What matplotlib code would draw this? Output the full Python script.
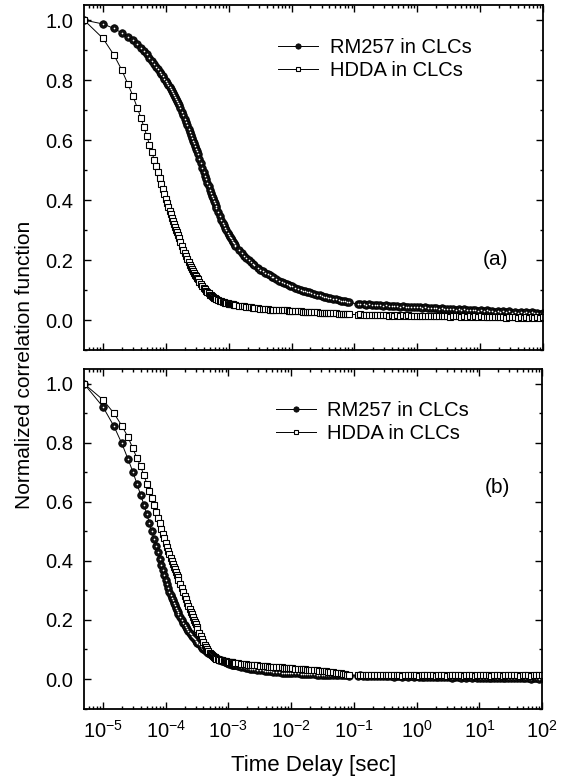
# Normalized correlation functions of RM257 and HDDA in CLCs, panels (a) and (b)

import numpy as np
import matplotlib.pyplot as plt
from matplotlib.ticker import FixedLocator, MultipleLocator, NullFormatter, LogFormatterSciNotation

plt.rcParams['font.family'] = ['Liberation Sans', 'DejaVu Sans']
plt.rcParams['axes.unicode_minus'] = False
plt.rcParams['mathtext.default'] = 'regular'

# lag times [sec] of the correlator channels, shared by every series
lag_time = [
    5e-6, 1e-5, 1.5e-5, 2e-5, 2.5e-5, 3e-5, 3.5e-5, 4e-5,
    4.5e-5, 5e-5, 5.5e-5, 6e-5, 6.5e-5, 7e-5, 7.5e-5, 8e-5,
    8.5e-5, 9e-5, 9.5e-5, 1e-4, 1.05e-4, 1.1e-4, 1.15e-4, 1.2e-4,
    1.25e-4, 1.3e-4, 1.35e-4, 1.4e-4, 1.45e-4, 1.5e-4, 1.55e-4, 1.6e-4,
    1.7e-4, 1.8e-4, 1.9e-4, 2e-4, 2.1e-4, 2.2e-4, 2.3e-4, 2.4e-4,
    2.5e-4, 2.6e-4, 2.7e-4, 2.8e-4, 2.9e-4, 3e-4, 3.1e-4, 3.2e-4,
    3.4e-4, 3.6e-4, 3.8e-4, 4e-4, 4.2e-4, 4.4e-4, 4.6e-4, 4.8e-4,
    5e-4, 5.2e-4, 5.4e-4, 5.6e-4, 5.8e-4, 6e-4, 6.2e-4, 6.4e-4,
    6.8e-4, 7.2e-4, 7.6e-4, 8e-4, 8.4e-4, 8.8e-4, 9.2e-4, 9.6e-4,
    1e-3, 1.04e-3, 1.08e-3, 1.12e-3, 1.16e-3, 1.2e-3, 1.24e-3, 1.28e-3,
    1.44e-3, 1.6e-3, 1.76e-3, 1.92e-3, 2.08e-3, 2.24e-3, 2.4e-3, 2.56e-3,
    2.88e-3, 3.2e-3, 3.52e-3, 3.84e-3, 4.16e-3, 4.48e-3, 4.8e-3, 5.12e-3,
    5.76e-3, 6.4e-3, 7.04e-3, 7.68e-3, 8.32e-3, 8.96e-3, 9.6e-3, 1.024e-2,
    1.152e-2, 1.28e-2, 1.408e-2, 1.536e-2, 1.664e-2, 1.792e-2, 1.92e-2, 2.048e-2,
    2.304e-2, 2.56e-2, 2.816e-2, 3.072e-2, 3.328e-2, 3.584e-2, 3.84e-2, 4.096e-2,
    4.608e-2, 5.12e-2, 5.632e-2, 6.144e-2, 6.656e-2, 7.168e-2, 7.68e-2, 8.192e-2,
    0.115, 0.125, 0.14, 0.155, 0.17, 0.19, 0.21, 0.23, 0.26, 0.29,
    0.32, 0.35, 0.39, 0.43, 0.48, 0.53, 0.59, 0.65, 0.72, 0.8,
    0.89, 0.98, 1.09, 1.2, 1.33, 1.48, 1.64, 1.82, 2.0, 2.2,
    2.45, 2.7, 3.0, 3.35, 3.7, 4.1, 4.55, 5.05, 5.6, 6.2,
    6.9, 7.6, 8.4, 9.3, 10.3, 11.5, 12.7, 14, 15.5, 17.2,
    19, 21, 23.5, 26, 29, 32, 35.5, 39.5, 44, 49,
    54, 60, 66, 73, 81, 90, 100,
]

# panel (a)
rm257_a = [
    1.000, 0.987, 0.972, 0.957, 0.944, 0.932, 0.920, 0.908,
    0.897, 0.886, 0.875, 0.865, 0.855, 0.845, 0.836, 0.827,
    0.819, 0.812, 0.805, 0.798, 0.791, 0.785, 0.778, 0.771,
    0.764, 0.757, 0.750, 0.744, 0.737, 0.731, 0.724, 0.718,
    0.706, 0.694, 0.682, 0.671, 0.660, 0.649, 0.638, 0.628,
    0.618, 0.608, 0.598, 0.589, 0.580, 0.571, 0.562, 0.554,
    0.538, 0.522, 0.508, 0.494, 0.481, 0.469, 0.457, 0.446,
    0.435, 0.425, 0.415, 0.406, 0.397, 0.389, 0.381, 0.373,
    0.359, 0.346, 0.335, 0.325, 0.316, 0.307, 0.299, 0.291,
    0.284, 0.278, 0.272, 0.266, 0.261, 0.256, 0.251, 0.247,
    0.234, 0.222, 0.213, 0.206, 0.199, 0.193, 0.188, 0.183,
    0.175, 0.168, 0.162, 0.157, 0.153, 0.149, 0.145, 0.142,
    0.136, 0.131, 0.127, 0.123, 0.120, 0.117, 0.114, 0.112,
    0.108, 0.104, 0.101, 0.098, 0.096, 0.094, 0.092, 0.090,
    0.087, 0.085, 0.082, 0.080, 0.078, 0.077, 0.075, 0.074,
    0.071, 0.069, 0.067, 0.065, 0.063, 0.062, 0.060, 0.059,
    0.053, 0.054, 0.052, 0.051, 0.052, 0.050, 0.051, 0.049, 0.050, 0.048,
    0.049, 0.047, 0.048, 0.046, 0.047, 0.045, 0.046, 0.044, 0.045, 0.043,
    0.044, 0.042, 0.043, 0.041, 0.042, 0.040, 0.041, 0.039, 0.040, 0.038,
    0.039, 0.037, 0.038, 0.036, 0.037, 0.035, 0.036, 0.034, 0.036, 0.033,
    0.034, 0.032, 0.034, 0.031, 0.033, 0.030, 0.032, 0.029, 0.031, 0.028,
    0.030, 0.027, 0.030, 0.026, 0.029, 0.025, 0.028, 0.024, 0.027, 0.023,
    0.027, 0.022, 0.026, 0.022, 0.025, 0.021, 0.024,
]
hdda_a = [
    1.000, 0.939, 0.883, 0.833, 0.786, 0.747, 0.708, 0.675,
    0.643, 0.613, 0.584, 0.560, 0.535, 0.513, 0.493, 0.473,
    0.455, 0.437, 0.421, 0.405, 0.391, 0.377, 0.364, 0.352,
    0.341, 0.330, 0.320, 0.310, 0.301, 0.292, 0.283, 0.275,
    0.260, 0.246, 0.234, 0.222, 0.212, 0.202, 0.193, 0.185,
    0.177, 0.170, 0.163, 0.157, 0.151, 0.146, 0.141, 0.136,
    0.128, 0.120, 0.113, 0.107, 0.102, 0.097, 0.093, 0.089,
    0.085, 0.082, 0.079, 0.077, 0.075, 0.073, 0.071, 0.070,
    0.067, 0.065, 0.063, 0.061, 0.060, 0.058, 0.057, 0.056,
    0.055, 0.054, 0.053, 0.052, 0.052, 0.051, 0.050, 0.050,
    0.048, 0.047, 0.046, 0.044, 0.043, 0.042, 0.041, 0.040,
    0.039, 0.038, 0.037, 0.036, 0.036, 0.035, 0.035, 0.034,
    0.034, 0.033, 0.033, 0.032, 0.032, 0.031, 0.031, 0.030,
    0.030, 0.029, 0.029, 0.028, 0.028, 0.027, 0.027, 0.027,
    0.026, 0.026, 0.025, 0.025, 0.024, 0.024, 0.024, 0.023,
    0.022, 0.022, 0.021, 0.021, 0.020, 0.020, 0.019, 0.019,
    0.018, 0.019, 0.017, 0.018, 0.016, 0.018, 0.017, 0.016, 0.018, 0.016,
    0.017, 0.015, 0.017, 0.015, 0.016, 0.014, 0.016, 0.015, 0.016, 0.014,
    0.015, 0.013, 0.015, 0.014, 0.015, 0.013, 0.014, 0.012, 0.014, 0.013,
    0.014, 0.012, 0.013, 0.011, 0.013, 0.012, 0.013, 0.011, 0.012, 0.010,
    0.012, 0.011, 0.012, 0.010, 0.012, 0.010, 0.011, 0.009, 0.011, 0.010,
    0.011, 0.009, 0.010, 0.008, 0.010, 0.009, 0.010, 0.008, 0.010, 0.008,
    0.009, 0.008, 0.009, 0.007, 0.009, 0.008, 0.009,
]

# panel (b)
rm257_b = [
    1.000, 0.922, 0.856, 0.798, 0.746, 0.702, 0.660, 0.623,
    0.590, 0.558, 0.529, 0.500, 0.475, 0.452, 0.430, 0.405,
    0.387, 0.370, 0.352, 0.335, 0.321, 0.308, 0.296, 0.285,
    0.275, 0.266, 0.257, 0.249, 0.241, 0.234, 0.227, 0.221,
    0.210, 0.200, 0.191, 0.183, 0.176, 0.169, 0.163, 0.157,
    0.152, 0.147, 0.142, 0.138, 0.134, 0.130, 0.126, 0.123,
    0.117, 0.111, 0.106, 0.102, 0.098, 0.094, 0.091, 0.088,
    0.085, 0.083, 0.080, 0.078, 0.076, 0.074, 0.072, 0.071,
    0.068, 0.066, 0.064, 0.062, 0.060, 0.058, 0.057, 0.055,
    0.054, 0.052, 0.051, 0.050, 0.049, 0.048, 0.047, 0.046,
    0.044, 0.041, 0.040, 0.038, 0.036, 0.035, 0.034, 0.033,
    0.031, 0.030, 0.029, 0.028, 0.027, 0.026, 0.026, 0.025,
    0.024, 0.023, 0.022, 0.022, 0.021, 0.021, 0.020, 0.020,
    0.019, 0.019, 0.018, 0.018, 0.017, 0.017, 0.017, 0.016,
    0.016, 0.015, 0.015, 0.015, 0.014, 0.014, 0.014, 0.014,
    0.013, 0.013, 0.013, 0.012, 0.012, 0.012, 0.012, 0.011,
    0.011, 0.012, 0.010, 0.011, 0.010, 0.011, 0.009, 0.011, 0.010, 0.009,
    0.010, 0.009, 0.010, 0.008, 0.010, 0.009, 0.008, 0.009, 0.008, 0.009,
    0.007, 0.009, 0.008, 0.007, 0.008, 0.007, 0.008, 0.006, 0.008, 0.007,
    0.006, 0.007, 0.006, 0.007, 0.005, 0.007, 0.006, 0.005, 0.006, 0.005,
    0.006, 0.004, 0.006, 0.005, 0.004, 0.005, 0.004, 0.005, 0.003, 0.005,
    0.004, 0.003, 0.004, 0.003, 0.004, 0.002, 0.004, 0.003, 0.002, 0.003,
    0.002, 0.003, 0.001, 0.003, 0.002, 0.001, 0.002,
]
hdda_b = [
    1.000, 0.946, 0.900, 0.858, 0.820, 0.781, 0.747, 0.720,
    0.690, 0.662, 0.637, 0.612, 0.589, 0.567, 0.547, 0.527,
    0.509, 0.492, 0.476, 0.461, 0.447, 0.434, 0.422, 0.411,
    0.400, 0.390, 0.380, 0.371, 0.362, 0.353, 0.345, 0.337,
    0.322, 0.308, 0.295, 0.282, 0.270, 0.259, 0.248, 0.238,
    0.228, 0.219, 0.210, 0.201, 0.193, 0.185, 0.177, 0.170,
    0.157, 0.145, 0.134, 0.124, 0.115, 0.107, 0.100, 0.094,
    0.089, 0.085, 0.081, 0.078, 0.075, 0.073, 0.071, 0.069,
    0.067, 0.065, 0.064, 0.063, 0.062, 0.061, 0.060, 0.059,
    0.058, 0.058, 0.057, 0.056, 0.056, 0.055, 0.055, 0.054,
    0.053, 0.052, 0.051, 0.050, 0.049, 0.048, 0.047, 0.047,
    0.046, 0.045, 0.044, 0.043, 0.043, 0.042, 0.042, 0.041,
    0.040, 0.039, 0.039, 0.038, 0.038, 0.037, 0.037, 0.036,
    0.035, 0.034, 0.034, 0.033, 0.033, 0.032, 0.032, 0.031,
    0.030, 0.029, 0.028, 0.027, 0.027, 0.026, 0.025, 0.024,
    0.023, 0.021, 0.020, 0.019, 0.017, 0.016, 0.015, 0.014,
    0.013, 0.014, 0.012, 0.014, 0.013, 0.012, 0.014, 0.012, 0.013, 0.014,
    0.012, 0.013, 0.012, 0.014, 0.012, 0.013, 0.011, 0.013, 0.012, 0.014,
    0.012, 0.013, 0.011, 0.013, 0.012, 0.014, 0.012, 0.013, 0.011, 0.013,
    0.012, 0.013, 0.011, 0.013, 0.012, 0.014, 0.012, 0.013, 0.011, 0.013,
    0.012, 0.013, 0.011, 0.013, 0.012, 0.014, 0.012, 0.013, 0.011, 0.013,
    0.012, 0.013, 0.011, 0.013, 0.012, 0.014, 0.012, 0.013, 0.011, 0.013,
    0.012, 0.013, 0.011, 0.013, 0.012, 0.014, 0.012,
]

labels = ['RM257 in CLCs', 'HDDA in CLCs']
panel_tags = ['(a)', '(b)']
decades = [1e-5, 1e-4, 1e-3, 1e-2, 1e-1, 1e0, 1e1, 1e2]

for series in (rm257_a, hdda_a, rm257_b, hdda_b):
    assert len(series) == len(lag_time), len(series)


def style_axis(ax):
    ax.set_xscale('log')
    ax.set_xlim(5e-6, 100)
    ax.set_ylim(-0.1, 1.05)
    minor = [m * d for d in [1e-6] + decades[:-1] for m in range(2, 10)]
    minor = [v for v in minor if 5e-6 <= v <= 100]
    ax.xaxis.set_major_locator(FixedLocator(decades))
    ax.xaxis.set_minor_locator(FixedLocator(minor))
    ax.xaxis.set_major_formatter(LogFormatterSciNotation())
    ax.xaxis.set_minor_formatter(NullFormatter())
    ax.yaxis.set_major_locator(MultipleLocator(0.2))
    ax.yaxis.set_minor_locator(MultipleLocator(0.1))
    ax.yaxis.set_major_formatter(plt.FormatStrFormatter('%.1f'))
    ax.tick_params(which='both', direction='in', top=True, right=True, width=1.0)
    ax.tick_params(which='major', length=5, labelsize=14.5, pad=8)
    ax.tick_params(which='minor', length=2.5)
    for sp in ax.spines.values():
        sp.set_linewidth(1.3)


def draw_panel(ax, rm, hd, legend_pos):
    t = np.array(lag_time)
    ax.plot(t, rm, '-', color='black', lw=0.7, marker='o', ms=5.4,
            mfc='#111111', mec='black', mew=0.6, label=labels[0])
    ax.plot(t, rm, ' ', marker='o', ms=1.2, mfc='white', mec='white', mew=0)
    ax.plot(t, hd, '-', color='black', lw=0.7, marker='s', ms=4.8,
            mfc='white', mec='black', mew=0.8, label=labels[1])
    ax.legend(loc='upper left', bbox_to_anchor=legend_pos, frameon=False,
              fontsize=14.5, handlelength=2.0, handletextpad=0.55,
              labelspacing=0.2, borderpad=0, borderaxespad=0, markerscale=0.7)
    style_axis(ax)


fig = plt.figure(figsize=(5.72, 7.78), dpi=100)
ax_a = fig.add_axes([0.1469, 0.5501, 0.8024, 0.4434])
ax_b = fig.add_axes([0.1469, 0.0893, 0.8010, 0.4364])

draw_panel(ax_a, rm257_a, hdda_a, (0.423, 0.905))
draw_panel(ax_b, rm257_b, hdda_b, (0.418, 0.905))

ax_a.tick_params(axis='x', labelbottom=False)
ax_a.text(0.896, 0.262, panel_tags[0], transform=ax_a.transAxes, fontsize=15,
          ha='center', va='center')
ax_b.text(0.902, 0.652, panel_tags[1], transform=ax_b.transAxes, fontsize=15,
          ha='center', va='center')

fig.text(0.043, 0.531, 'Normalized correlation function', rotation=90,
         fontsize=15, ha='center', va='center')
fig.text(0.549, 0.0165, 'Time Delay [sec]', fontsize=16, ha='center', va='center')

fig.savefig('out.png', dpi=100)
plt.close()
